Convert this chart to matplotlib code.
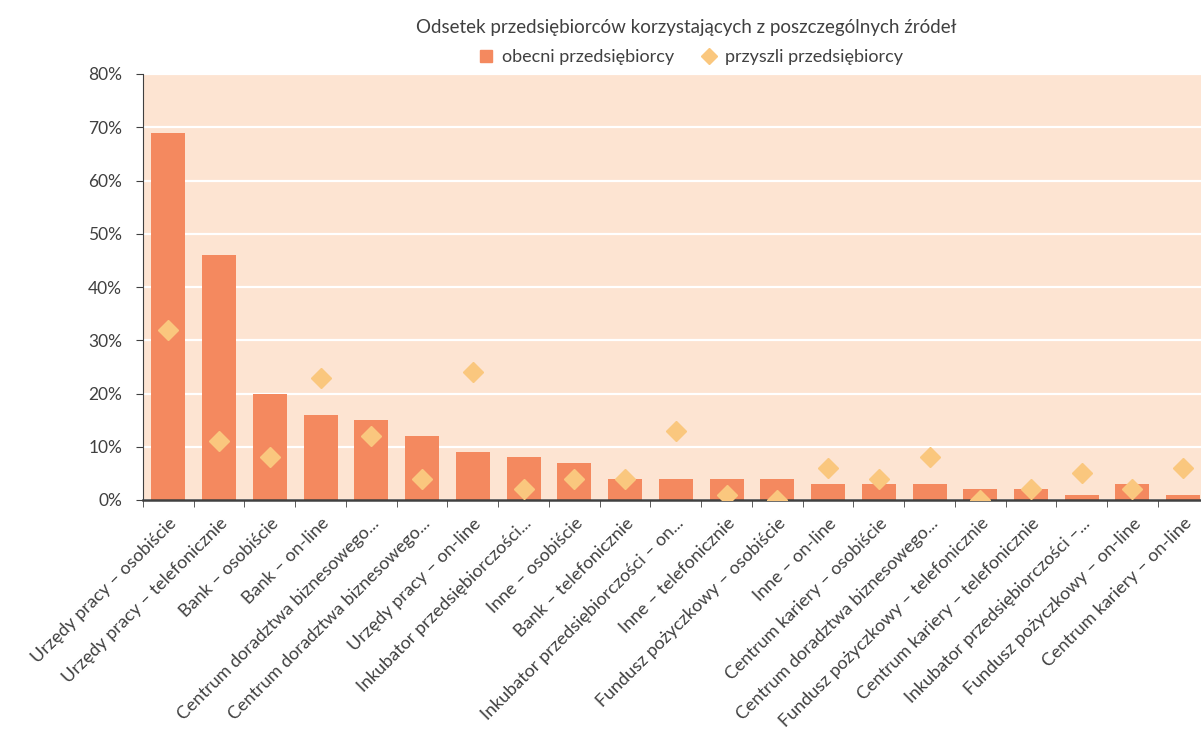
import numpy as np
import matplotlib.pyplot as plt
from matplotlib.ticker import PercentFormatter, FixedLocator
from matplotlib.lines import Line2D

plt.rcParams['font.family'] = ['Lato', 'DejaVu Sans']

# Dane
kategorie = [
    'Urzędy pracy – osobiście',
    'Urzędy pracy – telefonicznie',
    'Bank – osobiście',
    'Bank – on-line',
    'Centrum doradztwa biznesowego...',
    'Centrum doradztwa biznesowego...',
    'Urzędy pracy – on-line',
    'Inkubator przedsiębiorczości...',
    'Inne – osobiście',
    'Bank – telefonicznie',
    'Inkubator przedsiębiorczości – on...',
    'Inne – telefonicznie',
    'Fundusz pożyczkowy – osobiście',
    'Inne – on-line',
    'Centrum kariery – osobiście',
    'Centrum doradztwa biznesowego...',
    'Fundusz pożyczkowy – telefonicznie',
    'Centrum kariery – telefonicznie',
    'Inkubator przedsiębiorczości –...',
    'Fundusz pożyczkowy – on-line',
    'Centrum kariery – on-line',
]
obecni = [69, 46, 20, 16, 15, 12, 9, 8, 7, 4, 4, 4, 4, 3, 3, 3, 2, 2, 1, 3, 1]
przyszli = [32, 11, 8, 23, 12, 4, 24, 2, 4, 4, 13, 1, 0, 6, 4, 8, 0, 2, 5, 2, 6]

kolor_slupka = '#F4895F'
kolor_romb = '#FAC77E'
tlo = '#FDE4D2'
tekst = '#404040'

fig = plt.figure(figsize=(12.01, 7.35), dpi=100)
ax = fig.add_axes([143 / 1201, 1 - 500 / 735, 1 - 143 / 1201, 426 / 735])
ax.set_facecolor(tlo)

x = np.arange(len(kategorie))
ax.bar(x, obecni, width=0.67, color=kolor_slupka, zorder=2)
ax.plot(x, przyszli, linestyle='none', marker='D', markersize=10.5, color=kolor_romb, zorder=3)

ax.set_ylim(0, 80)
ax.set_xlim(-0.5, 20.35)
ax.set_yticks(np.arange(0, 81, 10))
ax.yaxis.set_major_formatter(PercentFormatter(decimals=0))
ax.grid(axis='y', color='white', linewidth=1.6, zorder=1)
ax.set_axisbelow(True)

ax.set_xticks(x)
ax.set_xticklabels(kategorie, rotation=45, ha='right', rotation_mode='anchor',
                   fontsize=13, color=tekst)
ax.tick_params(axis='x', which='major', length=0, pad=11)
ax.xaxis.set_minor_locator(FixedLocator(np.arange(-0.5, 21, 1)))
ax.tick_params(axis='x', which='minor', length=5, color=tekst, direction='out')
ax.tick_params(axis='y', length=5, color=tekst, labelsize=12.5, labelcolor=tekst, pad=10)

for s in ['top', 'right']:
    ax.spines[s].set_visible(False)
ax.spines['left'].set_color(tekst)
ax.spines['bottom'].set_color(tekst)
ax.spines['bottom'].set_linewidth(1.8)

fig.text(686 / 1201, 1 - 27 / 735, 'Odsetek przedsiębiorców korzystających z poszczególnych źródeł',
         ha='center', va='center', fontsize=13.5, color=tekst)
uchwyty = [
    Line2D([], [], linestyle='none', marker='s', markersize=9, color=kolor_slupka),
    Line2D([], [], linestyle='none', marker='D', markersize=8, color=kolor_romb),
]
fig.legend(uchwyty, ['obecni przedsiębiorcy', 'przyszli przedsiębiorcy'],
           loc='center', bbox_to_anchor=(690 / 1201, 1 - 57 / 735), ncol=2, frameon=False,
           fontsize=13, handlelength=1.0, handletextpad=0.4, columnspacing=1.4,
           labelcolor=tekst)

fig.savefig('out.png', dpi=100, facecolor='white')
